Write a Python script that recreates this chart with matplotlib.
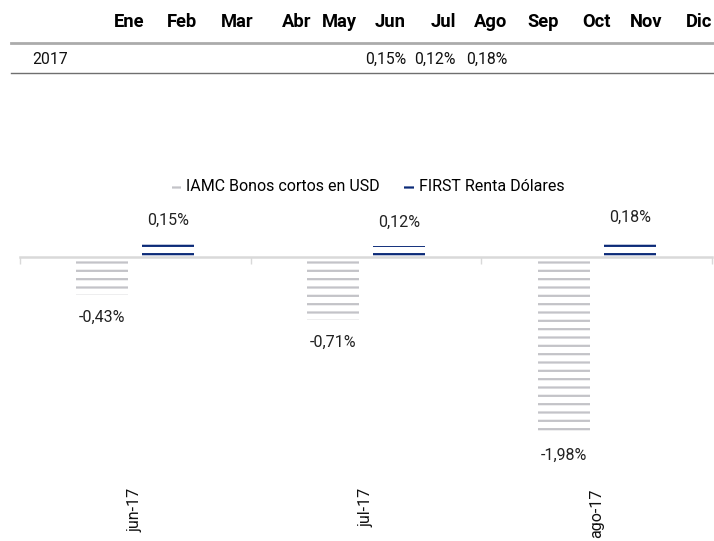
import matplotlib
matplotlib.use("Agg")
import matplotlib.pyplot as plt
from matplotlib.lines import Line2D

plt.rcParams["font.family"] = ["Roboto", "DejaVu Sans"]
plt.rcParams["hatch.linewidth"] = 1.6

W, H = 714, 541

meses = ["Ene", "Feb", "Mar", "Abr", "May", "Jun", "Jul", "Ago", "Sep", "Oct", "Nov", "Dic"]
anio = "2017"
rend_mensual = [None, None, None, None, None, 0.15, 0.12, 0.18, None, None, None, None]

categorias = ["jun-17", "jul-17", "ago-17"]
iamc = [-0.43, -0.71, -1.98]
first = [0.15, 0.12, 0.18]

GRIS = "#c3c3c8"
AZUL = "#0b2a78"


def fmt(v):
    return f"{v:.2f}%".replace(".", ",")


def fx(px):
    return px / W


def fy(py):
    return 1 - py / H


fig = plt.figure(figsize=(W / 100, H / 100), dpi=100)

# tabla superior
col_der = [144, 197, 254, 311, 357, 406, 456, 507, 559, 611, 662, 712]
for m, x in zip(meses, col_der):
    fig.text(fx(x), fy(22), m, ha="right", va="center", fontsize=13.2,
             fontweight="bold", color="black")
fig.add_artist(Line2D([fx(11), fx(714)], [fy(43), fy(43)], color="#ababab", lw=2))
fig.text(fx(32), fy(59), anio, ha="left", va="center", fontsize=11.3, color="#111111")
for v, x in zip(rend_mensual, col_der):
    if v is not None:
        fig.text(fx(x), fy(59), fmt(v), ha="right", va="center", fontsize=11.3,
                 color="#111111")
fig.add_artist(Line2D([fx(11), fx(714)], [fy(73), fy(73)], color="#6f6f6f", lw=1))

# grafico de barras
ymin, ymax = -2.5, 0.6
pxu = 89.4
cero = 256.5
top = cero - ymax * pxu
bot = cero - ymin * pxu
ax = fig.add_axes([fx(20), fy(bot), fx(712) - fx(20), (bot - top) / H])

x = list(range(len(categorias)))
ancho = 0.225
off = 0.143
b1 = ax.bar([i - off for i in x], iamc, ancho, color="none", edgecolor=GRIS,
            linewidth=0, hatch="--", label="IAMC Bonos cortos en USD")
b2 = ax.bar([i + off for i in x], first, ancho, color="none", edgecolor=AZUL,
            linewidth=0, hatch="--", label="FIRST Renta Dólares")

for r, v in zip(b1, iamc):
    ax.annotate(fmt(v), (r.get_x() + r.get_width() / 2, v), xytext=(0, -22),
                textcoords="offset pixels", ha="center", va="center",
                fontsize=11.5, color="#222222")
for r, v in zip(b2, first):
    ax.annotate(fmt(v), (r.get_x() + r.get_width() / 2, v), xytext=(0, 23),
                textcoords="offset pixels", ha="center", va="center",
                fontsize=11.5, color="#222222")

ax.set_xlim(-0.5, len(categorias) - 0.5)
ax.set_ylim(ymin, ymax)
for s in ["top", "left", "right"]:
    ax.spines[s].set_visible(False)
ax.spines["bottom"].set_position(("data", 0))
ax.spines["bottom"].set_color("#d9d9d9")
ax.spines["bottom"].set_linewidth(1.8)
ax.set_yticks([])
ax.set_xticks([i - 0.5 for i in range(len(categorias) + 1)])
ax.set_xticklabels([])
ax.tick_params(axis="x", length=5, width=1, color="#d9d9d9")

for i, c in enumerate(categorias):
    ax.text(i, -0.029, c, transform=ax.get_xaxis_transform(), rotation=90,
            ha="center", va="top", fontsize=11.5, color="#111111")

ax.legend(loc="center", bbox_to_anchor=(fx(368), fy(187)),
          bbox_transform=fig.transFigure, ncol=2, frameon=False, fontsize=11.5,
          handlelength=0.6, handleheight=0.6, handletextpad=0.3, columnspacing=1.55)

fig.savefig("out.png", dpi=100)
